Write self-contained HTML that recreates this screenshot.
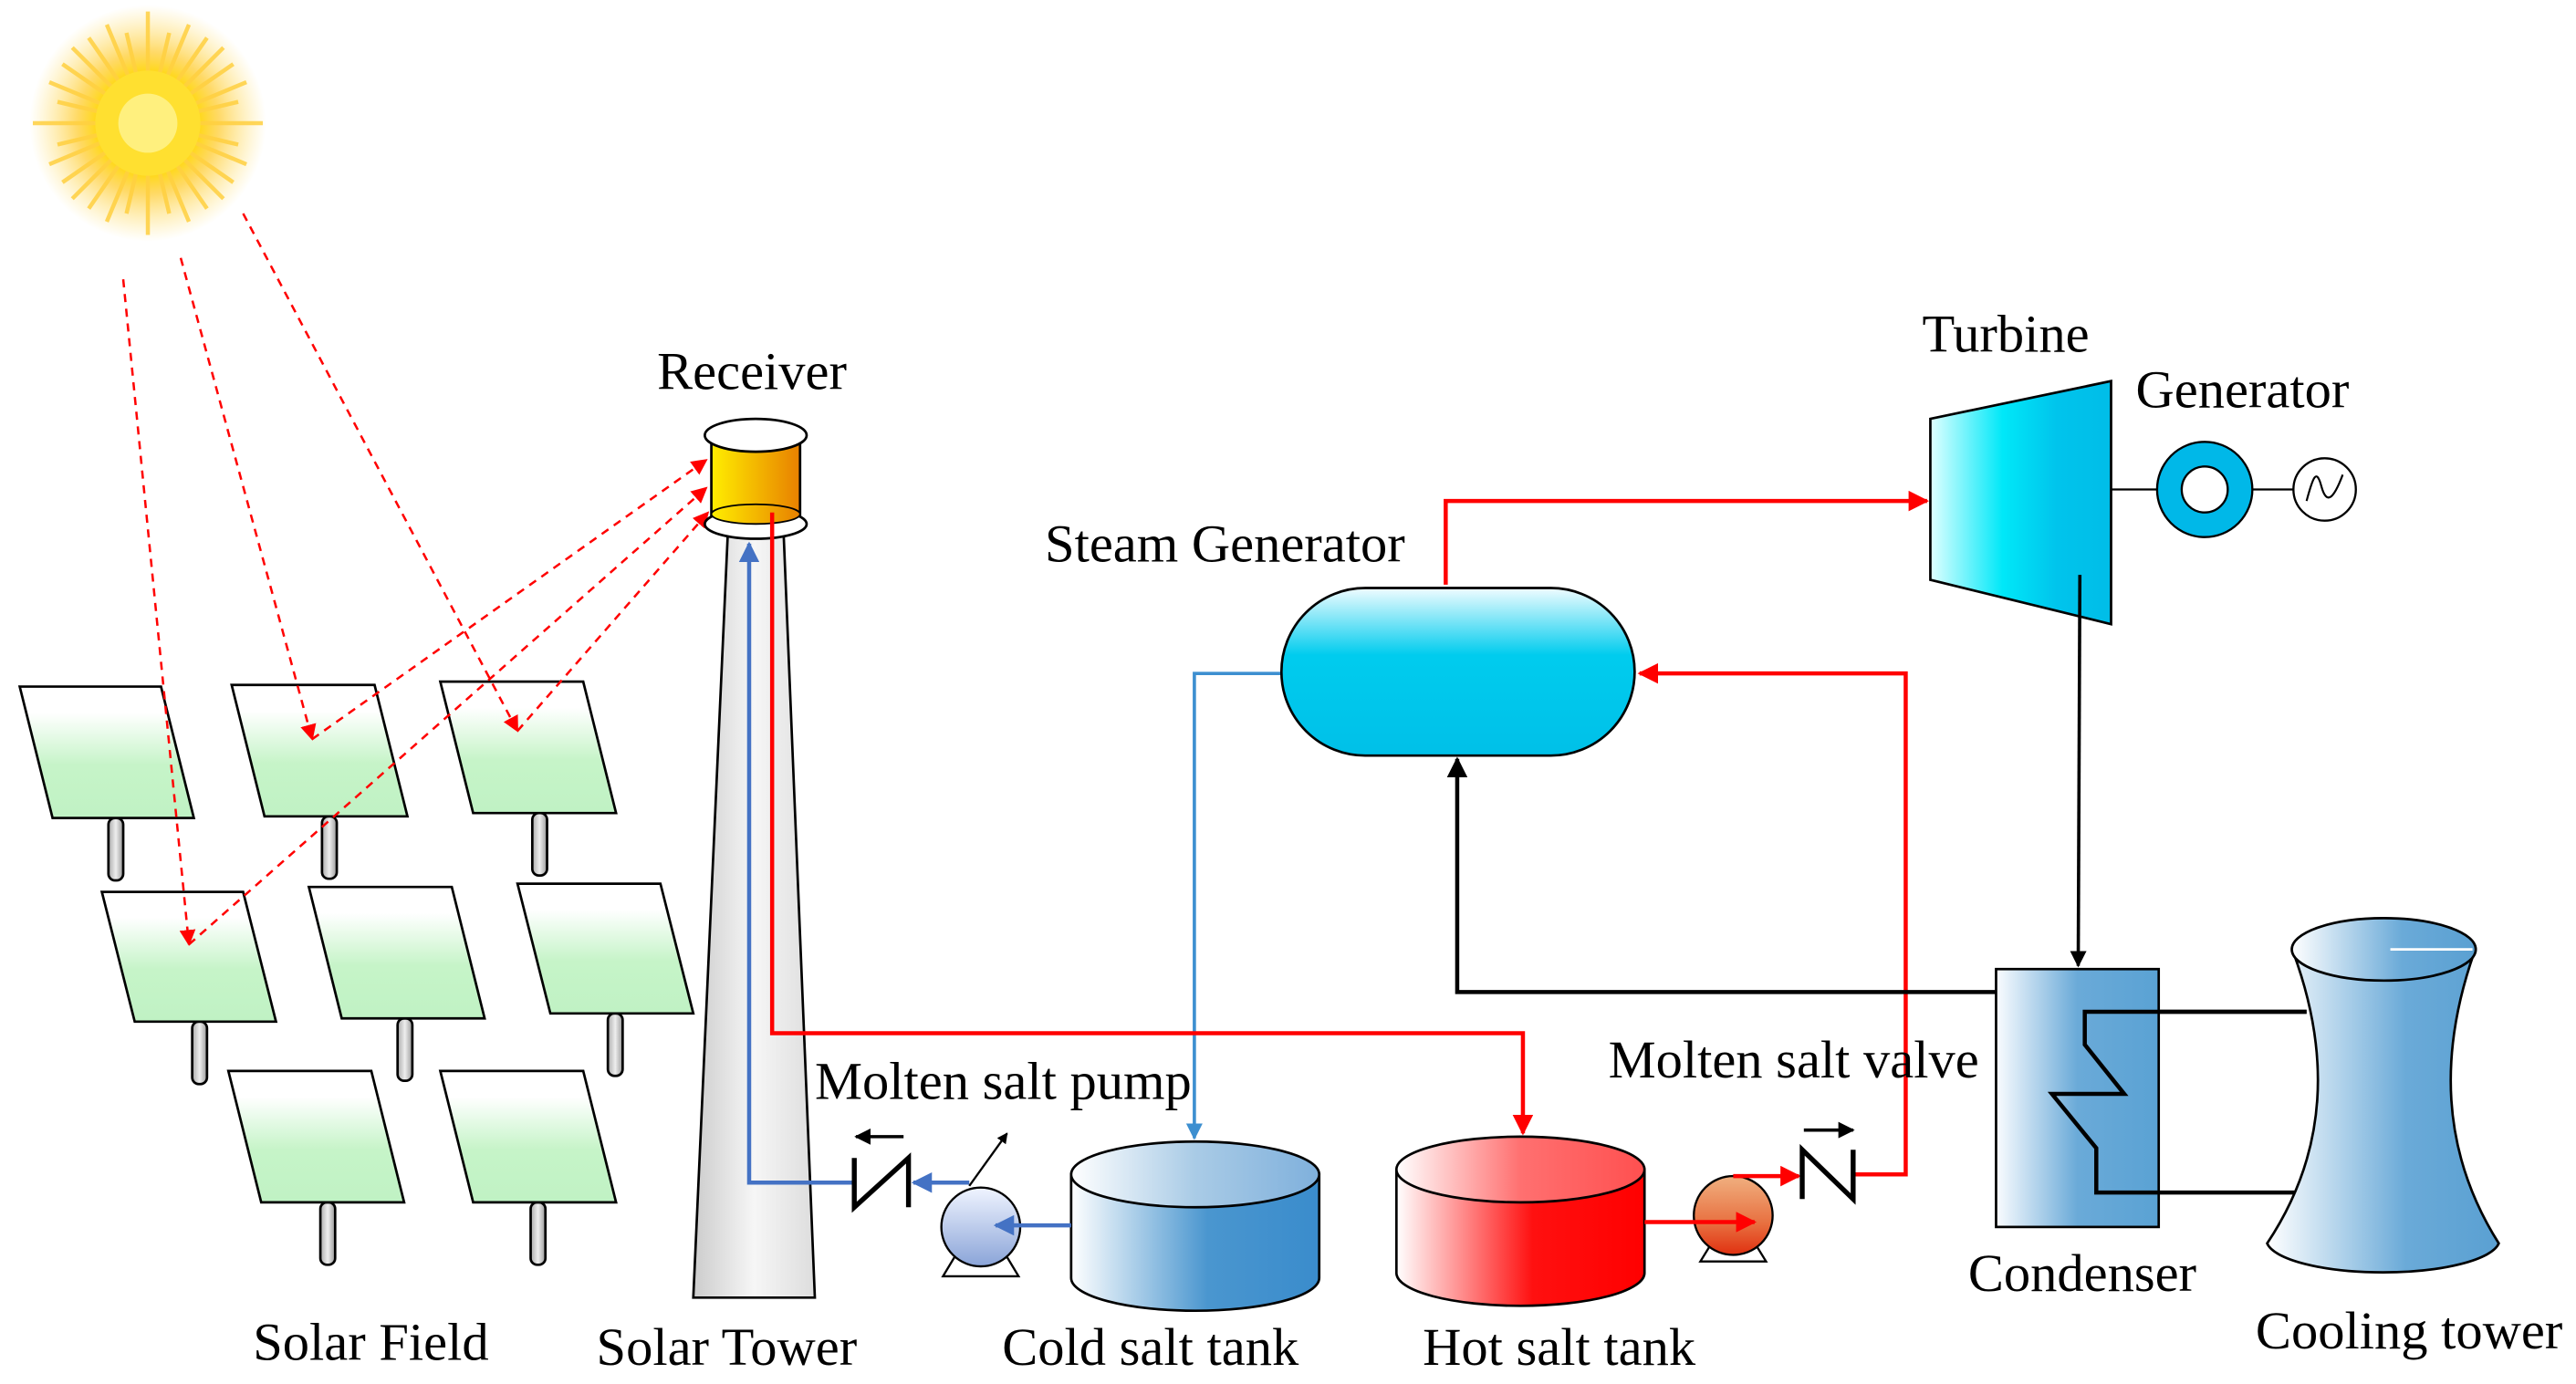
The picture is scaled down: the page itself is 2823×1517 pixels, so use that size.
<!DOCTYPE html>
<html><head><meta charset="utf-8"><style>html,body{margin:0;padding:0;background:#fff}svg{display:block}</style></head>
<body>
<svg width="2823" height="1517" viewBox="0 0 1568 842.6" preserveAspectRatio="none" xmlns="http://www.w3.org/2000/svg">
<defs>
<radialGradient id="sun"><stop offset="0" stop-color="#fff9c0"/><stop offset="0.45" stop-color="#ffd820"/><stop offset="0.6" stop-color="#ffd040" stop-opacity="0.8"/><stop offset="1" stop-color="#ffe070" stop-opacity="0"/></radialGradient>
<linearGradient id="panel" x1="0" y1="0" x2="0" y2="1"><stop offset="0.2" stop-color="#fff"/><stop offset="0.6" stop-color="#c6f4c8"/><stop offset="1" stop-color="#c0f2c4"/></linearGradient>
<linearGradient id="post" x1="0" x2="1"><stop offset="0" stop-color="#aaa"/><stop offset="0.5" stop-color="#eee"/><stop offset="1" stop-color="#999"/></linearGradient>
<linearGradient id="tower" x1="0" x2="1"><stop offset="0" stop-color="#ccc"/><stop offset="0.5" stop-color="#f6f6f6"/><stop offset="1" stop-color="#ddd"/></linearGradient>
<linearGradient id="recv" x1="0" x2="1"><stop offset="0" stop-color="#ffee00"/><stop offset="1" stop-color="#e88000"/></linearGradient>
<linearGradient id="cold" x1="0" x2="1"><stop offset="0" stop-color="#fff"/><stop offset="0.55" stop-color="#4a96cf"/><stop offset="1" stop-color="#3a8ccc"/></linearGradient>
<linearGradient id="coldtop" x1="0" x2="1"><stop offset="0" stop-color="#fff"/><stop offset="0.5" stop-color="#a9cbe6"/><stop offset="1" stop-color="#7fb0dc"/></linearGradient>
<linearGradient id="hot" x1="0" x2="1"><stop offset="0" stop-color="#fff"/><stop offset="0.55" stop-color="#ff1010"/><stop offset="1" stop-color="#ff0000"/></linearGradient>
<linearGradient id="hottop" x1="0" x2="1"><stop offset="0" stop-color="#fff"/><stop offset="0.5" stop-color="#ff7070"/><stop offset="1" stop-color="#ff5050"/></linearGradient>
<linearGradient id="steam" x1="0" y1="0" x2="0" y2="1"><stop offset="0" stop-color="#f0fcff"/><stop offset="0.4" stop-color="#00ccee"/><stop offset="1" stop-color="#00c0e8"/></linearGradient>
<linearGradient id="turb" x1="0" x2="1"><stop offset="0" stop-color="#e0ffff"/><stop offset="0.4" stop-color="#00e8f8"/><stop offset="0.7" stop-color="#00c4ec"/><stop offset="1" stop-color="#00bde8"/></linearGradient>
<linearGradient id="cond" x1="0" x2="1"><stop offset="0" stop-color="#fafcff"/><stop offset="0.5" stop-color="#6aaad8"/><stop offset="1" stop-color="#5aa2d4"/></linearGradient>
<linearGradient id="ct" x1="0" x2="1"><stop offset="0" stop-color="#fff"/><stop offset="0.6" stop-color="#6aaad8"/><stop offset="1" stop-color="#5aa0d2"/></linearGradient>
<linearGradient id="pumpb" x1="0" y1="0" x2="0" y2="1"><stop offset="0" stop-color="#f0f4ff"/><stop offset="1" stop-color="#8aa4d8"/></linearGradient>
<linearGradient id="pumpr" x1="0" y1="0" x2="0" y2="1"><stop offset="0" stop-color="#f0b080"/><stop offset="0.6" stop-color="#e87040"/><stop offset="1" stop-color="#e03010"/></linearGradient>
<marker id="ar" viewBox="0 0 10 10" refX="9" refY="5" markerWidth="5" markerHeight="5" orient="auto-start-reverse"><path d="M0,0L10,5L0,10z" fill="#ff0000"/></marker>
<marker id="ab" viewBox="0 0 10 10" refX="9" refY="5" markerWidth="5" markerHeight="5" orient="auto"><path d="M0,0L10,5L0,10z" fill="#4472c4"/></marker>
<marker id="ab2" viewBox="0 0 10 10" refX="9" refY="5" markerWidth="5" markerHeight="5" orient="auto"><path d="M0,0L10,5L0,10z" fill="#3d8fd0"/></marker>
<marker id="ak" viewBox="0 0 10 10" refX="9" refY="5" markerWidth="5" markerHeight="5" orient="auto"><path d="M0,0L10,5L0,10z" fill="#000"/></marker>
<marker id="ad" viewBox="0 0 10 10" refX="9" refY="5" markerWidth="7" markerHeight="7" orient="auto-start-reverse"><path d="M0,0L10,5L0,10z" fill="#ff0000"/></marker>
</defs>

<g transform="translate(90,75)">
<circle r="72" fill="url(#sun)"/>
<g stroke="#ffd040" stroke-width="2.5" opacity="0.85">
<line x1="0" y1="-68" x2="0" y2="68"/><line x1="-70" y1="0" x2="70" y2="0"/>
<line x1="-46" y1="-46" x2="46" y2="46"/><line x1="-46" y1="46" x2="46" y2="-46"/>
<line x1="-25" y1="-60" x2="25" y2="60"/><line x1="25" y1="-60" x2="-25" y2="60"/>
<line x1="-60" y1="-25" x2="60" y2="25"/><line x1="-60" y1="25" x2="60" y2="-25"/>
<line x1="-13" y1="-55" x2="13" y2="55"/><line x1="13" y1="-55" x2="-13" y2="55"/>
<line x1="-55" y1="-13" x2="55" y2="13"/><line x1="-55" y1="13" x2="55" y2="-13"/>
<line x1="-36" y1="-52" x2="36" y2="52"/><line x1="36" y1="-52" x2="-36" y2="52"/>
<line x1="-52" y1="-36" x2="52" y2="36"/><line x1="-52" y1="36" x2="52" y2="-36"/>
</g>
<circle r="32" fill="#ffe030"/><circle r="18" fill="#fff6a0" opacity="0.7"/>
</g>

<g stroke="#000" stroke-width="1.5">
<g fill="url(#post)">
<rect x="66" y="498" width="9" height="38" rx="4"/><rect x="196" y="497" width="9" height="38" rx="4"/><rect x="324" y="495" width="9" height="38" rx="4"/>
<rect x="117" y="622" width="9" height="38" rx="4"/><rect x="242" y="620" width="9" height="38" rx="4"/><rect x="370" y="617" width="9" height="38" rx="4"/>
<rect x="195" y="732" width="9" height="38" rx="4"/><rect x="323" y="732" width="9" height="38" rx="4"/>
</g>
<g fill="url(#panel)">
<polygon points="12,418 98,418 118,498 32,498"/><polygon points="141,417 228,417 248,497 161,497"/><polygon points="268,415 355,415 375,495 288,495"/>
<polygon points="62,543 148,543 168,622 82,622"/><polygon points="188,540 275,540 295,620 208,620"/><polygon points="315,538 402,538 422,617 335,617"/>
<polygon points="139,652 226,652 246,732 159,732"/><polygon points="268,652 355,652 375,732 288,732"/>
</g>
</g>

<g stroke="#ff0000" stroke-width="1.4" stroke-dasharray="5,4" fill="none">
<line x1="75" y1="170" x2="115" y2="575" marker-end="url(#ad)"/>
<line x1="110" y1="157" x2="190" y2="450" marker-end="url(#ad)"/>
<line x1="148" y1="130" x2="315" y2="445" marker-end="url(#ad)"/>
<line x1="190" y1="450" x2="430" y2="280" marker-end="url(#ad)"/>
<line x1="115" y1="575" x2="430" y2="297" marker-end="url(#ad)"/>
<line x1="315" y1="445" x2="431" y2="312" marker-end="url(#ad)"/>
</g>

<polygon points="443,325 477,325 496,790 422,790" fill="url(#tower)" stroke="#000" stroke-width="1.5"/>
<ellipse cx="460" cy="319" rx="31" ry="9" fill="#fff" stroke="#000" stroke-width="1.5"/>
<rect x="433" y="268" width="54" height="46" fill="url(#recv)" stroke="#000" stroke-width="1.5"/>
<ellipse cx="460" cy="313" rx="27" ry="6" fill="url(#recv)" stroke="#000" stroke-width="1"/>
<ellipse cx="460" cy="265" rx="31" ry="10" fill="#fff" stroke="#000" stroke-width="1.5"/>

<polyline points="520,720 456,720 456,331" fill="none" stroke="#4472c4" stroke-width="2.5" marker-end="url(#ab)"/>
<line x1="590" y1="720" x2="556" y2="720" stroke="#4472c4" stroke-width="2.5" marker-end="url(#ab)"/>
<polyline points="780,410 727,410 727,693" fill="none" stroke="#3d8fd0" stroke-width="2" marker-end="url(#ab2)"/>

<polyline points="470,312 470,629 927,629 927,690" fill="none" stroke="#ff0000" stroke-width="2.5" marker-end="url(#ar)"/>
<polyline points="1128,715 1160,715 1160,410 998,410" fill="none" stroke="#ff0000" stroke-width="2.5" marker-end="url(#ar)"/>
<polyline points="880,356 880,305 1173,305" fill="none" stroke="#ff0000" stroke-width="2.5" marker-end="url(#ar)"/>

<path d="M652,715 L652,778 A75.5,20 0 0 0 803,778 L803,715 Z" fill="url(#cold)" stroke="#000" stroke-width="1.5"/>
<ellipse cx="727.5" cy="715" rx="75.5" ry="20" fill="url(#coldtop)" stroke="#000" stroke-width="1.5"/>
<path d="M850,712 L850,775 A75.5,20 0 0 0 1001,775 L1001,712 Z" fill="url(#hot)" stroke="#000" stroke-width="1.5"/>
<ellipse cx="925.5" cy="712" rx="75.5" ry="20" fill="url(#hottop)" stroke="#000" stroke-width="1.5"/>

<polygon points="583,762 611,762 620,777 574,777" fill="#fff" stroke="#000" stroke-width="1.3"/>
<ellipse cx="597" cy="747" rx="24" ry="24" fill="url(#pumpb)" stroke="#000" stroke-width="1.3"/>
<line x1="590" y1="722" x2="613" y2="690" stroke="#000" stroke-width="1.3" marker-end="url(#ak)"/>
<line x1="652" y1="746" x2="606" y2="746" stroke="#4472c4" stroke-width="2.5" marker-end="url(#ab)"/>
<polygon points="1043,755 1067,755 1075,768 1035,768" fill="#fff" stroke="#000" stroke-width="1.3"/>
<ellipse cx="1055" cy="740" rx="24" ry="24" fill="url(#pumpr)" stroke="#000" stroke-width="1.3"/>
<line x1="1001" y1="744" x2="1068" y2="744" stroke="#ff0000" stroke-width="2.5" marker-end="url(#ar)"/>
<line x1="1055" y1="716" x2="1095" y2="716" stroke="#ff0000" stroke-width="2.5" marker-end="url(#ar)"/>

<polyline points="520,705 520,735 553,705 553,735" fill="none" stroke="#000" stroke-width="3"/>
<line x1="550" y1="692" x2="521" y2="692" stroke="#000" stroke-width="2" marker-end="url(#ak)"/>
<polyline points="1097,700 1097,730 1128,700 1128,730" fill="none" stroke="#000" stroke-width="3" transform="matrix(1,0,0,-1,0,1430)"/>
<line x1="1098" y1="688" x2="1128" y2="688" stroke="#000" stroke-width="2" marker-end="url(#ak)"/>

<rect x="780" y="358" width="215" height="102" rx="51" fill="url(#steam)" stroke="#000" stroke-width="1.5"/>

<polygon points="1175,255 1285,232 1285,380 1175,353" fill="url(#turb)" stroke="#000" stroke-width="1.5"/>
<line x1="1285" y1="298" x2="1313" y2="298" stroke="#000" stroke-width="1.3"/>
<line x1="1371" y1="298" x2="1397" y2="298" stroke="#000" stroke-width="1.3"/>
<circle cx="1342" cy="298" r="29" fill="#00b8e8" stroke="#000" stroke-width="1.3"/>
<circle cx="1342" cy="298" r="14" fill="#fff" stroke="#000" stroke-width="1.3"/>
<circle cx="1415" cy="298" r="19" fill="#fff" stroke="#000" stroke-width="1.3"/>
<path d="M1404,305 C1408,290 1410,285 1413,296 C1416,307 1420,305 1426,289" fill="none" stroke="#000" stroke-width="1.2"/>

<line x1="1266" y1="350" x2="1265" y2="588" stroke="#000" stroke-width="2" marker-end="url(#ak)"/>
<polyline points="1215,604 887,604 887,462" fill="none" stroke="#000" stroke-width="2.5" marker-end="url(#ak)"/>

<rect x="1215" y="590" width="99" height="157" fill="url(#cond)" stroke="#000" stroke-width="1.5"/>
<polyline points="1404,616 1269,616 1269,636 1293,666 1249,666 1276,699 1276,726 1399,726" fill="none" stroke="#000" stroke-width="2.5"/>

<path d="M1396,580 C1418,640 1418,700 1380,757 A71,20 0 0 0 1521,757 C1485,700 1485,640 1506,580 Z" fill="url(#ct)" stroke="#000" stroke-width="1.5"/>
<ellipse cx="1451" cy="578" rx="56" ry="19" fill="url(#ct)" stroke="#000" stroke-width="1.5"/>
<line x1="1455" y1="578" x2="1505" y2="578" stroke="#fff" stroke-width="1.5"/>
<polyline points="1314,616 1404,616" stroke="#000" stroke-width="2.5"/>

<g font-family="'Liberation Serif', serif" font-size="32.5" fill="#000">
<text x="400" y="237">Receiver</text>
<text x="1170" y="214">Turbine</text>
<text x="1300" y="248">Generator</text>
<text x="636" y="342">Steam Generator</text>
<text x="496" y="669">Molten salt pump</text>
<text x="979" y="656">Molten salt valve</text>
<text x="1198" y="786">Condenser</text>
<text x="1373" y="821">Cooling tower</text>
<text x="154" y="828">Solar Field</text>
<text x="363" y="831">Solar Tower</text>
<text x="610" y="831">Cold salt tank</text>
<text x="866" y="831">Hot salt tank</text>
</g>
</svg>
</body></html>
